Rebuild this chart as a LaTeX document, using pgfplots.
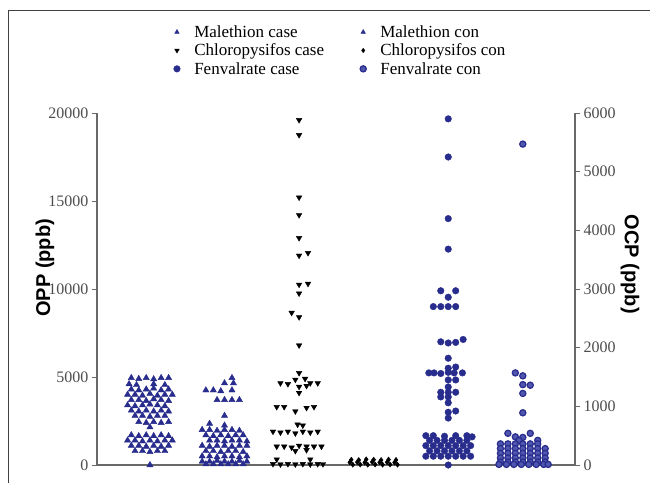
\documentclass[border=0pt]{standalone}
\usepackage{fontspec}
\setmainfont{Liberation Serif}
\setsansfont{Liberation Sans}
\usepackage{pgfplots}
\pgfplotsset{compat=1.18}
\definecolor{mblue}{RGB}{40,44,140}
\definecolor{mlight}{RGB}{80,85,175}
\definecolor{axgray}{RGB}{105,105,105}
\pgfplotsset{
 common/.style={
  at={(0,0)}, anchor=south west,
  scale only axis, width=478pt, height=352pt,
  xmin=0.29, xmax=6.7, ymin=0,
  clip=false,
  tick align=outside, major tick length=5pt,
  every tick/.style={axgray, line width=0.9pt},
  axis line style={axgray, line width=1.1pt},
  yticklabel style={font=\fontsize{16}{18}\selectfont, text=black!70},
  /pgf/number format/assume math mode=true,
  /pgf/number format/set thousands separator={},
  scaled y ticks=false,
  xtick=\empty,
 }
}
\begin{document}
\begin{tikzpicture}
\begin{axis}[common, axis y line*=left, axis x line*=bottom,
  ymax=20000, ytick={0,5000,10000,15000,20000},
  ylabel={OPP (ppb)},
  every axis y label/.style={at={(axis description cs:-0.109,0.56)}, anchor=center, rotate=90, font=\sffamily\bfseries\fontsize{20}{22}\selectfont}]
% Malethion case
\addplot[only marks, mark=triangle*, mark size=3.6pt, mark options={draw=mblue, fill=mblue}] coordinates {
(0.75,4950)(0.85,4900)(0.95,4950)(1.05,4880)(1.15,4950)(1.25,4950)
(0.72,4600)(0.82,4550)(1.05,4600)(1.2,4550)
(0.75,4300)(0.85,4250)(0.95,4300)(1.05,4350)(1.15,4250)(1.25,4300)
(0.7,4000)(0.8,4000)(0.9,3950)(1.0,4050)(1.1,3950)(1.2,4000)(1.3,4000)
(0.75,3700)(0.85,3700)(0.95,3650)(1.05,3750)(1.15,3700)(1.25,3650)
(0.7,3400)(0.8,3350)(0.9,3400)(1.0,3450)(1.1,3400)(1.2,3350)
(0.75,3100)(0.85,3050)(0.95,3100)(1.05,3050)(1.15,3100)(1.25,3050)
(0.8,2800)(0.9,2800)(1.0,2750)(1.1,2800)(1.2,2800)
(0.85,2450)(0.95,2400)(1.05,2450)(1.15,2400)(1.25,2450)
(1.0,2150)
(0.75,1700)(0.85,1650)(0.95,1700)(1.05,1650)(1.15,1700)(1.25,1650)
(0.7,1400)(0.8,1400)(0.9,1350)(1.0,1400)(1.1,1350)(1.2,1400)(1.3,1400)
(0.75,1100)(0.85,1100)(0.95,1050)(1.05,1100)(1.15,1050)(1.25,1100)
(0.8,800)(0.9,800)(1.0,750)(1.1,800)(1.2,800)
(1.0,0)
};
% Malethion con
\addplot[only marks, mark=triangle*, mark size=3.6pt, mark options={draw=mblue, fill=mblue}] coordinates {
(2.1,4950)
(2.0,4650)(2.12,4650)
(1.75,4250)(1.85,4250)(1.95,4200)(2.1,4250)
(1.9,3700)(2.0,3700)(2.1,3700)(2.2,3700)
(2.0,2800)
(1.8,2350)(2.0,2250)
(1.7,2000)(1.8,2000)(1.9,1950)(2.0,2000)(2.1,2000)(2.2,1950)
(1.75,1700)(1.85,1650)(1.95,1700)(2.05,1650)(2.15,1700)(2.25,1700)
(1.8,1400)(1.9,1400)(2.0,1350)(2.1,1400)(2.2,1400)(2.3,1350)
(1.7,1100)(1.8,1050)(1.9,1100)(2.0,1100)(2.1,1050)(2.2,1100)(2.3,1100)
(1.75,800)(1.85,800)(1.95,750)(2.05,800)(2.15,800)(2.25,750)
(1.7,500)(1.8,500)(1.9,450)(2.0,500)(2.1,500)(2.2,450)(2.3,500)
(1.7,200)(1.8,200)(1.9,250)(2.0,200)(2.1,200)(2.2,250)(2.3,200)
(1.75,50)(1.85,50)(1.95,50)(2.05,50)(2.15,50)(2.25,50)
};
% Chloropysifos case
\addplot[only marks, mark=triangle*, mark size=3.2pt, mark options={rotate=180, draw=black, fill=black}] coordinates {
(3.0,19600)(3.0,18750)(3.0,15200)(3.0,14200)(3.0,12900)(3.0,11900)(3.12,12050)
(3.0,10250)(3.12,10300)(3.0,9750)(2.9,8650)(3.0,8400)(3.0,6800)(3.0,5230)
(2.95,4850)(3.08,4900)(2.75,4650)(2.85,4600)(3.15,4650)(3.25,4650)(3.0,4450)(3.1,4500)(3.0,4100)
(2.7,3300)(2.8,3300)(3.1,3250)(3.2,3300)(2.95,3050)
(2.98,2300)(3.05,2250)
(2.65,1900)(2.75,1850)(2.85,1900)(2.95,1800)(3.05,1900)(3.15,1850)(3.25,1900)
(2.7,1050)(2.8,1050)(2.9,1000)(3.0,1100)(3.1,1050)(3.2,1050)(3.3,1050)
(2.95,800)(3.1,850)
(2.7,320)(3.15,320)
(2.65,60)(2.75,40)(2.85,60)(2.95,40)(3.05,60)(3.15,40)(3.25,60)(3.32,50)
};
% Chloropysifos con
\addplot[only marks, mark=diamond*, mark size=2.6pt, mark options={draw=black, fill=black}] coordinates {
(3.7,300)(3.8,280)(3.9,320)(4.0,300)(4.1,280)(4.2,310)(4.3,290)
(3.68,150)(3.78,160)(3.88,140)(3.98,170)(4.08,150)(4.18,160)(4.28,140)
(3.72,20)(3.82,30)(3.92,20)(4.02,30)(4.12,20)(4.22,30)(4.32,20)
};
\end{axis}
\begin{axis}[common, axis y line*=right, axis x line=none,
  ymax=6000, ytick={0,1000,2000,3000,4000,5000,6000},
  ylabel={OCP (ppb)},
  every axis y label/.style={at={(axis description cs:1.115,0.57)}, anchor=center, rotate=-90, font=\sffamily\bfseries\fontsize{20}{22}\selectfont},
  legend columns=2,
  legend cell align=left,
  legend style={draw=none, fill=none, at={(axis description cs:0.16,1.255)}, anchor=north west,
    font=\fontsize{17}{19}\selectfont, row sep=1pt, inner sep=0pt,
    /tikz/every odd column/.append style={column sep=12pt},
    /tikz/every even column/.append style={column sep=34pt}},
  ]
\addlegendimage{only marks, mark=triangle*, mark size=2.6pt, mark options={draw=mblue, fill=mblue}}
\addlegendentry{Malethion case}
\addlegendimage{only marks, mark=triangle*, mark size=2.6pt, mark options={draw=mblue, fill=mblue}}
\addlegendentry{Malethion con}
\addlegendimage{only marks, mark=triangle*, mark size=2.6pt, mark options={rotate=180, draw=black, fill=black}}
\addlegendentry{Chloropysifos case}
\addlegendimage{only marks, mark=diamond*, mark size=2.2pt, mark options={draw=black, fill=black}}
\addlegendentry{Chloropysifos con}
% Fenvalrate case
\addplot[only marks, mark=*, mark size=3.3pt, mark options={draw=mblue, fill=mblue}] coordinates {
(5.0,5900)(5.0,5250)(5.0,4200)(5.0,3680)
(4.9,2970)(5.1,2970)(5.0,2860)
(4.8,2700)(4.9,2700)(5.0,2700)(5.1,2700)
(4.9,2100)(5.0,2080)(5.1,2090)(5.2,2140)
(5.0,1820)
(5.0,1650)(5.1,1670)
(4.74,1570)(4.81,1570)(4.9,1560)(5.0,1580)(5.08,1570)(5.19,1570)
(5.0,1450)(5.1,1450)
(5.0,1330)
(4.9,1240)(5.0,1240)(5.1,1240)
(4.9,1160)(5.0,1160)
(5.0,1060)
(5.0,900)(5.1,920)
(5.0,800)
(4.7,500)(4.8,500)(4.95,490)(5.1,500)(5.25,500)(5.32,480)
(4.75,420)(4.85,420)(4.95,420)(5.05,420)(5.15,420)(5.25,420)
(4.7,330)(4.8,330)(4.9,330)(5.0,330)(5.1,330)(5.2,330)(5.3,330)
(4.75,240)(4.85,240)(4.95,240)(5.05,240)(5.15,240)(5.25,240)
(4.7,150)(4.8,150)(4.9,150)(5.0,150)(5.1,150)(5.2,150)(5.3,150)
(5.0,0)
};
\addlegendentry{Fenvalrate case}
% Fenvalrate con
\addplot[only marks, mark=*, mark size=3.1pt, mark options={draw=mblue, fill=mlight, line width=1.2pt}] coordinates {
(6.0,5470)
(5.9,1570)(6.0,1520)
(6.0,1370)(6.1,1360)
(6.0,1220)
(6.0,890)
(5.8,540)(6.1,540)
(5.9,480)(6.0,470)
(5.95,420)(6.2,420)
(5.7,360)(5.8,360)(5.9,360)(6.0,360)(6.1,360)(6.2,360)
(5.7,280)(5.8,280)(5.9,280)(6.0,280)(6.1,280)(6.2,280)(6.3,280)
(5.7,200)(5.8,200)(5.9,200)(6.0,200)(6.1,200)(6.2,200)(6.3,200)
(5.7,120)(5.8,120)(5.9,120)(6.0,120)(6.1,120)(6.2,120)(6.3,120)
(5.7,50)(5.8,50)(5.9,50)(6.0,50)(6.1,50)(6.2,50)(6.3,50)
(5.68,10)(5.78,10)(5.88,10)(5.98,10)(6.08,10)(6.18,10)(6.28,10)(6.34,10)
};
\addlegendentry{Fenvalrate con}
\end{axis}
\draw[black!75, line width=0.9pt] (-89pt,-18pt) -- (-89pt,455pt) -- (553pt,455pt);
\pgfresetboundingbox
\useasboundingbox (-97pt,-18pt) rectangle (553pt,465pt);
\end{tikzpicture}
\end{document}
